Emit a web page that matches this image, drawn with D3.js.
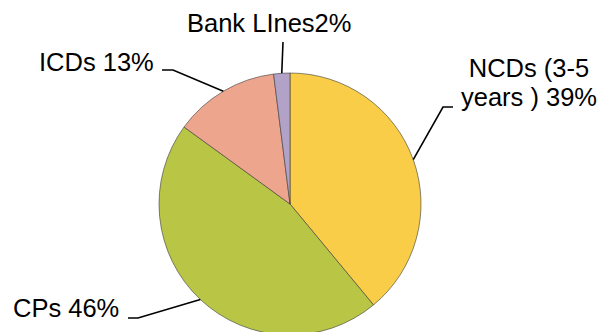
<!DOCTYPE html>
<html>
<head>
<meta charset="utf-8">
<script src="https://cdn.jsdelivr.net/npm/d3@7"></script>
<style>
  html, body { margin: 0; padding: 0; background: #ffffff; }
  #chart { width: 603px; height: 332px; overflow: hidden; }
</style>
</head>
<body>
<div id="chart"></div>
<script>
// funding mix, clockwise from 12 o'clock
const categories = ["NCDs (3-5 years )", "CPs", "ICDs", "Bank LInes"];
const shares = [39, 46, 13, 2];
// label lines as printed on the chart
const labelLines = [
  ["NCDs (3-5", "years ) 39%"],
  ["CPs 46%"],
  ["ICDs 13%"],
  ["Bank LInes2%"]
];
const colors = ["#f9cd48", "#b9c544", "#eda68d", "#b3a2c7"];

const w = 603, h = 332;
const cx = 290, cy = 204, r = 131;

// where each label sits, relative to the pie centre (elbow of leader, text anchor)
const labelLayout = [
  { elbow: [153, -97], end: [163, -97], text: [239, -127], anchor: "middle" },
  { elbow: [-152, 114], end: [-162, 114], text: [-277, 113], anchor: "start" },
  { elbow: [-117, -134], end: [-128, -134], text: [-251, -133], anchor: "start" },
  { elbow: [-7, -162], end: [-7, -162], text: [-103, -172], anchor: "start" }
];

const svg = d3.select("#chart").append("svg")
  .attr("width", w)
  .attr("height", h);

const g = svg.append("g").attr("transform", "translate(" + cx + "," + cy + ")");

const pie = d3.pie().sort(null).value(d => d)(shares);
const arc = d3.arc().innerRadius(0).outerRadius(r);

g.selectAll(".slice")
  .data(pie)
  .enter().append("path")
  .attr("class", "slice")
  .attr("d", arc)
  .style("fill", (d, i) => colors[i])
  .style("stroke", "#3a3a3a")
  .style("stroke-width", 0.6);

// leader lines from the rim at the slice's mid angle
const edge = d3.arc().innerRadius(r).outerRadius(r);
g.selectAll(".leader")
  .data(pie)
  .enter().append("polyline")
  .attr("class", "leader")
  .attr("points", (d, i) => {
    const p = edge.centroid(d);
    const L = labelLayout[i];
    return [p, L.elbow, L.end].map(q => q.join(",")).join(" ");
  })
  .style("fill", "none")
  .style("stroke", "#000")
  .style("stroke-width", 1.6);

// labels
const labels = g.selectAll(".lbl")
  .data(pie)
  .enter().append("text")
  .attr("class", "lbl")
  .attr("x", (d, i) => labelLayout[i].text[0])
  .attr("y", (d, i) => labelLayout[i].text[1])
  .attr("text-anchor", (d, i) => labelLayout[i].anchor)
  .attr("font-family", "Liberation Sans, Arial, sans-serif")
  .attr("font-size", "25.5px")
  .attr("fill", "#000");

labels.each(function(d, i) {
  const t = d3.select(this);
  labelLines[i].forEach((line, j) => {
    t.append("tspan")
      .attr("x", labelLayout[i].text[0])
      .attr("dy", j === 0 ? 0 : 28.5)
      .text(line);
  });
});
</script>
</body>
</html>
